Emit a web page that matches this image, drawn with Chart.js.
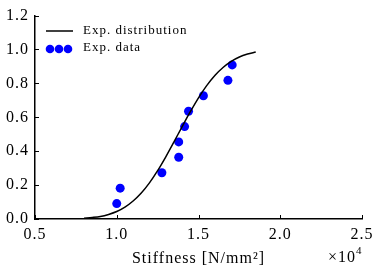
<!DOCTYPE html>
<html>
<head>
<meta charset="utf-8">
<script src="https://cdn.jsdelivr.net/npm/chart.js"></script>
<style>
  html, body { margin: 0; padding: 0; background: #fff; }
  #wrap { width: 378px; height: 268px; }
</style>
</head>
<body>
<div id="wrap"><canvas id="chart"></canvas></div>
<script>

// stiffness values of measured specimens [N/mm2]
var dataStiffness = [10000, 10210, 12760, 13790, 13790, 14150, 14390, 15300, 16800, 17060];
// cumulative probability of the measured specimens
var dataProb = [0.091, 0.182, 0.273, 0.364, 0.455, 0.545, 0.636, 0.727, 0.818, 0.909];

// fitted distribution curve
var curveStiffness = [8000, 8500, 9000, 9500, 10000, 10500, 11000, 11500, 12000, 12500, 13000,
                      13500, 14000, 14500, 15000, 15500, 16000, 16500, 17000, 17500, 18000, 18500];
var curveProb = [0.005, 0.009, 0.015, 0.027, 0.044, 0.070, 0.106, 0.153, 0.213, 0.285, 0.367,
                 0.455, 0.545, 0.633, 0.715, 0.787, 0.847, 0.894, 0.930, 0.956, 0.973, 0.985];

var xTicks = [5000, 10000, 15000, 20000, 25000];
var yTicks = [0, 0.2, 0.4, 0.6, 0.8, 1.0, 1.2];

var serif = "'Liberation Serif', 'DejaVu Serif', serif";

function toPoints(xs, ys) {
    return xs.map((x, i) => ({x: x, y: ys[i]}));
}

// inward ticks, legend and the x10^4 offset text
var extras = {
    id: 'extras',
    beforeDraw(chart) {
        // the original font is wider than Times, spread letters a bit
        chart.ctx.letterSpacing = '1px';
    },
    afterDraw(chart) {
        var ctx = chart.ctx;
        var xs = chart.scales.x, ys = chart.scales.y;
        var area = chart.chartArea;
        ctx.save();
        ctx.strokeStyle = '#000';
        ctx.lineWidth = 1;
        xTicks.forEach(v => {
            var px = Math.round(xs.getPixelForValue(v)) + 0.5;
            ctx.beginPath();
            ctx.moveTo(px, area.bottom);
            ctx.lineTo(px, area.bottom - 4);
            ctx.stroke();
        });
        yTicks.forEach(v => {
            var py = Math.round(ys.getPixelForValue(v)) + 0.5;
            ctx.beginPath();
            ctx.moveTo(area.left, py);
            ctx.lineTo(area.left + 4, py);
            ctx.stroke();
        });

        // legend
        ctx.lineWidth = 1.5;
        ctx.beginPath();
        ctx.moveTo(46, 31);
        ctx.lineTo(73, 31);
        ctx.stroke();
        ctx.fillStyle = '#0000ff';
        [50, 59, 68].forEach(cx => {
            ctx.beginPath();
            ctx.arc(cx, 49, 4.3, 0, Math.PI * 2);
            ctx.fill();
        });
        ctx.fillStyle = '#000';
        ctx.letterSpacing = '1px';
        ctx.font = '13px ' + serif;
        ctx.textBaseline = 'middle';
        ctx.textAlign = 'left';
        ctx.fillText('Exp. distribution', 83, 31);
        ctx.fillText('Exp. data', 83, 48);

        // offset text
        ctx.font = '16px ' + serif;
        ctx.textAlign = 'right';
        ctx.textBaseline = 'alphabetic';
        ctx.fillText('\u00d710', 356, 262);
        ctx.font = '11px ' + serif;
        ctx.textAlign = 'left';
        ctx.fillText('4', 356, 254);
        ctx.restore();
    }
};

var chart = new Chart(document.getElementById('chart'), {
    type: 'scatter',
    data: {
        datasets: [
            {
                label: 'Exp. distribution',
                type: 'line',
                data: toPoints(curveStiffness, curveProb),
                borderColor: '#000',
                borderWidth: 1.5,
                pointRadius: 0,
                tension: 0.4,
                cubicInterpolationMode: 'monotone',
                fill: false
            },
            {
                label: 'Exp. data',
                data: toPoints(dataStiffness, dataProb),
                backgroundColor: '#0000ff',
                borderColor: '#0000ff',
                pointRadius: 4.5,
                borderWidth: 0
            }
        ]
    },
    plugins: [extras],
    options: {
        responsive: true,
        maintainAspectRatio: false,
        animation: false,
        layout: { padding: { top: 14, right: 13, left: 0, bottom: 0 } },
        plugins: {
            legend: { display: false },
            tooltip: { enabled: false }
        },
        scales: {
            x: {
                type: 'linear',
                min: 5000,
                max: 25000,
                afterBuildTicks: s => { s.ticks = xTicks.map(v => ({value: v})); },
                afterFit: s => { s.height = 49; },
                grid: { display: false, drawTicks: false },
                border: { display: true, color: '#000', width: 1.5 },
                ticks: {
                    color: '#000',
                    padding: 6,
                    font: { family: serif, size: 16 },
                    callback: v => (v / 10000).toFixed(1)
                },
                title: {
                    display: true,
                    text: 'Stiffness [N/mm\u00b2]',
                    color: '#000',
                    font: { family: serif, size: 16 },
                    padding: { top: 0, bottom: 0 }
                }
            },
            y: {
                min: 0,
                max: 1.2,
                afterBuildTicks: s => { s.ticks = yTicks.map(v => ({value: v})); },
                afterFit: s => { s.width = 35; },
                grid: { display: false, drawTicks: false },
                border: { display: true, color: '#000', width: 1.5 },
                ticks: {
                    color: '#000',
                    padding: 6,
                    font: { family: serif, size: 16 },
                    callback: v => v.toFixed(1)
                }
            }
        }
    }
});

</script>
</body>
</html>
